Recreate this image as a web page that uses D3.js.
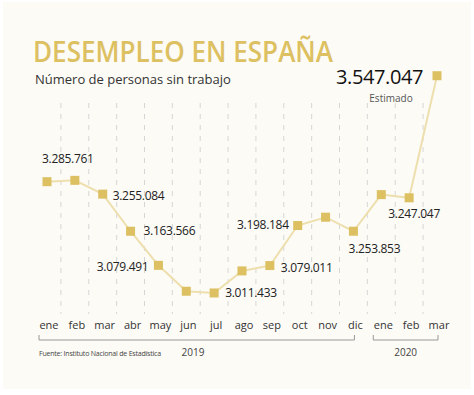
<!DOCTYPE html>
<html>
<head>
<meta charset="utf-8">
<script src="https://cdn.jsdelivr.net/npm/d3@7"></script>
<style>
  body { margin: 0; background: #ffffff; }
  svg { display: block; }
</style>
</head>
<body>
<div id="chart"></div>
<script>
// months across 2019 and early 2020
const months = ["ene","feb","mar","abr","may","jun","jul","ago","sep","oct","nov","dic","ene","feb","mar"];
const parados = [3285761, 3289040, 3255084, 3163566, 3079491, 3015686, 3011433, 3065804,
                 3079011, 3177659, 3198184, 3163605, 3253853, 3246047, 3547047];
// value labels as printed, with the point each one hangs off
const labelTexts = ["3.285.761","3.255.084","3.163.566","3.079.491","3.011.433",
                    "3.079.011","3.198.184","3.253.853","3.247.047"];
const labelPoints = [0, 2, 3, 4, 6, 8, 9, 11, 13];
const years = ["2019", "2020"];
const yearStart = [0, 12];
const yearEnd = [11, 14];

const W = 474, H = 395;
const gold = "#dcc062";
const lineCol = "#eedfae";

// offsets for each label [dx, dy, anchor]
const labelPos = [
  [-5, -19, "start"], [10, 6, "start"], [13, 4, "start"], [-10, 6, "end"], [11, 4, "start"],
  [11, 6, "start"], [-9, 3, "end"], [21, 22, "middle"], [5, 20, "middle"]
];

const svg = d3.select("#chart").append("svg")
  .attr("width", W).attr("height", H);

svg.append("rect")
  .attr("x", 3).attr("y", 2).attr("width", W - 6).attr("height", H - 8)
  .attr("fill", "#fcfbf6");

const x = d3.scalePoint().domain(d3.range(months.length)).range([47, 437]);
const y = d3.scaleLinear().domain([3000000, 3550000]).range([297.6, 74.5]);

// title block
svg.append("text")
  .attr("x", 33).attr("y", 62)
  .attr("font-family", "Open Sans").attr("font-weight", 600)
  .attr("font-size", 28).attr("fill", gold)
  .attr("textLength", 300).attr("lengthAdjust", "spacingAndGlyphs")
  .text("DESEMPLEO EN ESPAÑA");

svg.append("text")
  .attr("x", 35).attr("y", 84)
  .attr("font-family", "Open Sans").attr("font-size", 13)
  .attr("fill", "#333")
  .text("Número de personas sin trabajo");

// dashed separators between months
const step = x.step();
svg.append("g").selectAll("line")
  .data(d3.range(months.length - 1))
  .join("line")
  .attr("x1", d => x(d) + step / 2).attr("x2", d => x(d) + step / 2)
  .attr("y1", 103).attr("y2", 314)
  .attr("stroke", "#d6d6d6").attr("stroke-width", 1)
  .attr("stroke-dasharray", "5,6");

// month labels
svg.append("g").selectAll("text")
  .data(months)
  .join("text")
  .attr("x", (d, i) => x(i) + 2).attr("y", 329)
  .attr("text-anchor", "middle")
  .attr("font-family", "Open Sans").attr("font-size", 11)
  .attr("fill", "#333")
  .text(d => d);

// year brackets
const brackets = svg.append("g");
years.forEach((yr, k) => {
  const x0 = x(yearStart[k]) - 8, x1 = x(yearEnd[k]) + 1;
  brackets.append("path")
    .attr("d", `M${x0},335V340H${x1}V335`)
    .attr("fill", "none").attr("stroke", "#999").attr("stroke-width", 1);
  brackets.append("text")
    .attr("x", k === 0 ? 193 : (x0 + x1) / 2).attr("y", 356)
    .attr("text-anchor", "middle")
    .attr("font-family", "Open Sans").attr("font-size", 10)
    .attr("fill", "#444")
    .text(yr);
});

svg.append("text")
  .attr("x", 39).attr("y", 356)
  .attr("font-family", "Open Sans").attr("font-size", 7)
  .attr("letter-spacing", -0.2)
  .attr("fill", "#444")
  .text("Fuente: Instituto Nacional de Estadística");

// the line and markers
const line = d3.line().x((d, i) => x(i)).y(d => y(d));
svg.append("path")
  .datum(parados)
  .attr("d", line)
  .attr("fill", "none").attr("stroke", lineCol).attr("stroke-width", 2);

const m = 9;
svg.append("g").selectAll("rect")
  .data(parados)
  .join("rect")
  .attr("x", (d, i) => x(i) - m / 2).attr("y", d => y(d) - m / 2)
  .attr("width", m).attr("height", m)
  .attr("fill", gold);

// value labels
svg.append("g").selectAll("text")
  .data(labelTexts)
  .join("text")
  .attr("x", (d, i) => x(labelPoints[i]) + labelPos[i][0])
  .attr("y", (d, i) => y(parados[labelPoints[i]]) + labelPos[i][1])
  .attr("text-anchor", (d, i) => labelPos[i][2])
  .attr("font-family", "Open Sans").attr("font-size", 12)
  .attr("letter-spacing", -0.3)
  .attr("fill", "#222")
  .text(d => d);

// estimated value for March 2020
const es = d3.formatLocale({decimal: ",", thousands: ".", grouping: [3], currency: ["", "€"]});
const last = parados.length - 1;
svg.append("text")
  .attr("x", x(last) - 14).attr("y", y(parados[last]) + 8)
  .attr("text-anchor", "end")
  .attr("font-family", "Open Sans").attr("font-size", 20)
  .attr("letter-spacing", -0.4)
  .attr("fill", "#111")
  .text(es.format(",")(parados[last]));
svg.append("text")
  .attr("x", x(last) - 46).attr("y", y(parados[last]) + 26)
  .attr("text-anchor", "middle")
  .attr("font-family", "Open Sans").attr("font-size", 10)
  .attr("fill", "#555")
  .text("Estimado");
</script>
</body>
</html>
